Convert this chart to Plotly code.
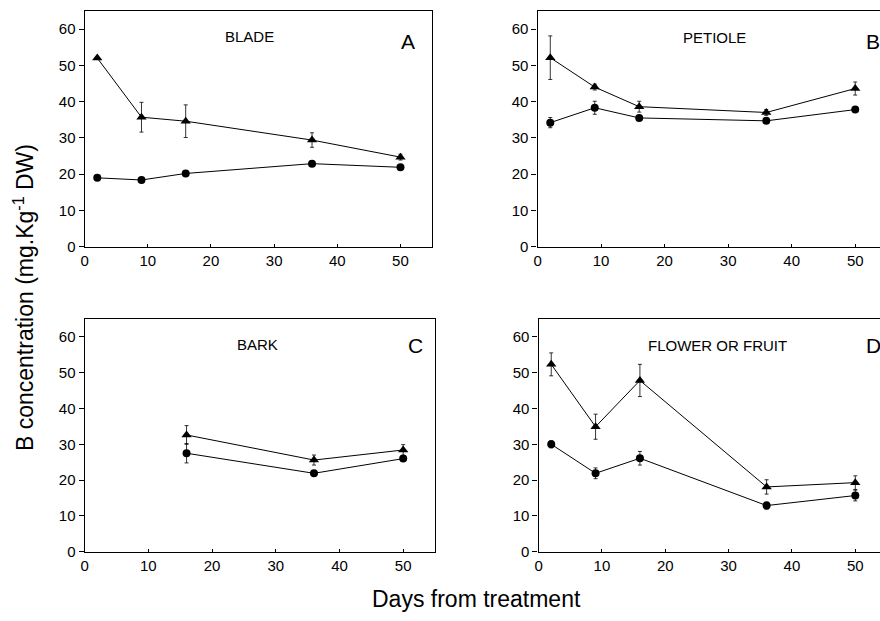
import plotly.graph_objects as go

# ---------------- data ----------------
days_all = [2, 9, 16, 36, 50]
days_bark = [16, 36, 50]

blade_tri = [52.0, 35.7, 34.6, 29.4, 24.7]
blade_tri_err = [0.0, 4.1, 4.5, 2.0, 0.8]
blade_cir = [19.0, 18.4, 20.2, 22.9, 21.9]
blade_cir_err = [0.0, 0.0, 0.0, 0.0, 0.0]

petiole_tri = [52.1, 44.0, 38.6, 37.0, 43.6]
petiole_tri_err = [6.0, 0.8, 1.5, 0.8, 1.8]
petiole_cir = [34.2, 38.3, 35.5, 34.7, 37.8]
petiole_cir_err = [1.4, 1.8, 0.5, 0.5, 0.4]

bark_tri = [32.6, 25.6, 28.4]
bark_tri_err = [2.6, 1.4, 1.5]
bark_cir = [27.5, 21.9, 26.0]
bark_cir_err = [2.7, 0.4, 0.6]

fruit_tri = [52.3, 34.9, 47.8, 18.1, 19.3]
fruit_tri_err = [3.2, 3.5, 4.5, 2.0, 1.9]
fruit_cir = [30.0, 21.9, 26.1, 12.9, 15.7]
fruit_cir_err = [1.0, 1.5, 1.9, 1.0, 1.5]

panel_titles = ["BLADE", "PETIOLE", "BARK", "FLOWER OR FRUIT"]
panel_letters = ["A", "B", "C", "D"]
x_ticks = [0, 10, 20, 30, 40, 50]
y_ticks = [0, 10, 20, 30, 40, 50, 60]

W, H = 880, 621
FONT = "Liberation Sans, Arial, sans-serif"

fig = go.Figure()

panels = [
    (days_all, blade_tri, blade_tri_err, blade_cir, blade_cir_err),
    (days_all, petiole_tri, petiole_tri_err, petiole_cir, petiole_cir_err),
    (days_bark, bark_tri, bark_tri_err, bark_cir, bark_cir_err),
    (days_all, fruit_tri, fruit_tri_err, fruit_cir, fruit_cir_err),
]

# pixel geometry of each panel: (left, right, top, bottom, xmax)
geom = [
    (81, 430, 11, 250, 55.0),
    (536, 880, 11, 250, 53.9),
    (81, 433, 323, 559, 55.0),
    (537, 880, 323, 559, 53.9),
]

for i, (x, tri, tri_e, cir, cir_e) in enumerate(panels):
    n = i + 1
    xa = "x" if n == 1 else f"x{n}"
    ya = "y" if n == 1 else f"y{n}"
    for yv, ev, sym, size in [(cir, cir_e, "circle", 8), (tri, tri_e, "triangle-up", 9)]:
        fig.add_trace(go.Scatter(
            x=x, y=yv, xaxis=xa, yaxis=ya, mode="lines+markers",
            line=dict(color="black", width=1),
            marker=dict(symbol=sym, size=size, color="black"),
            error_y=dict(type="data", array=ev, visible=True, color="black",
                         thickness=0.8, width=2),
            showlegend=False, hoverinfo="skip"))
    l, r, t, b, xmax = geom[i]
    right_open = r >= W
    fig.layout[f"xaxis{'' if n == 1 else n}"] = dict(
        domain=[l / W, r / W], range=[0, xmax], anchor=ya,
        tickvals=x_ticks, ticks="inside", ticklen=3, tickcolor="black",
        showline=True, linecolor="black", linewidth=1.2, mirror=True,
        showgrid=False, zeroline=False,
        tickfont=dict(family=FONT, size=15, color="black"))
    fig.layout[f"yaxis{'' if n == 1 else n}"] = dict(
        domain=[1 - b / H, 1 - t / H], range=[0, 65], anchor=xa,
        tickvals=y_ticks, ticks="outside", ticklen=5, tickcolor="black",
        showline=True, linecolor="black", linewidth=1.2,
        mirror=False if right_open else True,
        showgrid=False, zeroline=False,
        tickfont=dict(family=FONT, size=15, color="black"))

annotations = []
title_pos = [(247, 37), (714, 38), (255, 349), (717, 350)]
letter_pos = [(406, 42, "center"), (864, 42, "left"), (413, 350, "center"), (864, 350, "left")]
for i in range(4):
    tx, ty = title_pos[i]
    annotations.append(dict(x=tx / W, y=1 - ty / H, xref="paper", yref="paper",
                            text=panel_titles[i], showarrow=False,
                            xanchor="center", yanchor="middle",
                            font=dict(family=FONT, size=15, color="black")))
    lx, ly, anc = letter_pos[i]
    annotations.append(dict(x=lx / W, y=1 - ly / H, xref="paper", yref="paper",
                            text=panel_letters[i], showarrow=False,
                            xanchor=anc, yanchor="middle",
                            font=dict(family=FONT, size=21, color="black")))

annotations.append(dict(x=20 / W, y=1 - 301 / H, xref="paper", yref="paper",
                        text="B concentration (mg.Kg<sup>-1</sup> DW)", textangle=-90,
                        showarrow=False, xanchor="center", yanchor="middle",
                        font=dict(family=FONT, size=23, color="black")))
annotations.append(dict(x=475 / W, y=1 - 607 / H, xref="paper", yref="paper",
                        text="Days from treatment", showarrow=False,
                        xanchor="center", yanchor="middle",
                        font=dict(family=FONT, size=23, color="black")))

fig.update_layout(width=W, height=H, margin=dict(l=0, r=0, t=0, b=0),
                  paper_bgcolor="white", plot_bgcolor="white",
                  annotations=annotations)

fig.write_html("out.html")
